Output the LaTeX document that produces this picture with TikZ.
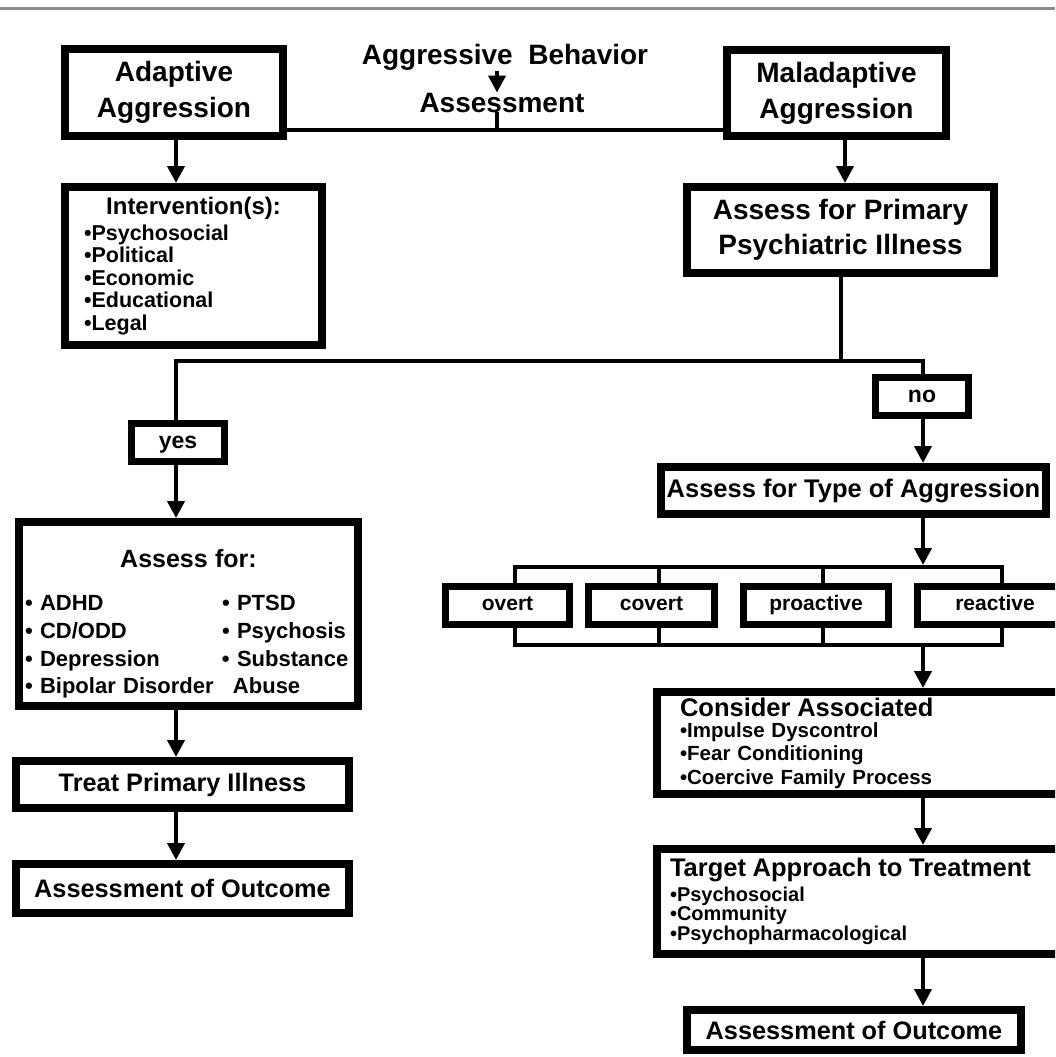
\documentclass[tikz,border=0pt]{standalone}
\usepackage{fontspec}
\setmainfont{Liberation Sans}
\usetikzlibrary{arrows.meta,positioning}

\begin{document}
\lineskiplimit=-20pt\relax
\begin{tikzpicture}[
    x=1pt, y=-1pt,
    box/.style={draw, line width=8pt, inner sep=0pt, align=center},
    tag/.style={draw, line width=7pt, inner sep=0pt, minimum height=38pt, text height=15pt, text depth=4.5pt, font=\bfseries\fontsize{21}{24}\selectfont},
    conn/.style={line width=4pt},
    arr/.style={conn, -{Triangle[length=17pt,width=17pt]}},
  ]
    \useasboundingbox (0,0) rectangle (1055,1057);
    \clip (0,0) rectangle (1055,1057);
    \draw[line width=3pt, black!45] (0,9) -- (1055,9);

    % Top row
    \node[box, minimum width=218pt, minimum height=87pt, font=\bfseries\fontsize{28}{36}\selectfont] (adapt) at (174,92.5) {Adaptive\\Aggression};
    \node[box, minimum width=219pt, minimum height=86pt, font=\bfseries\fontsize{28}{36}\selectfont] (malad) at (836.5,93) {Maladaptive\\Aggression};
    \node[inner sep=0pt, anchor=base, font=\bfseries\fontsize{28}{34}\selectfont] (behav) at (505,65) {Aggressive~~Behavior};
    \node[inner sep=0pt, anchor=base, font=\bfseries\fontsize{28}{34}\selectfont] (assess) at (502,112) {Assessment};

    % Adaptive branch
    \node[box, minimum width=257pt, minimum height=158pt, text width=219pt, inner xsep=19pt, align=left,
          font=\bfseries\fontsize{21.5}{22.5}\selectfont] (interv) at (193.5,266)
      {\makebox[\linewidth]{\fontsize{24}{24}\selectfont Intervention(s):}\\[3.5pt]
       •Psychosocial\\ •Political\\ •Economic\\ •Educational\\ •Legal};

    % Maladaptive branch
    \node[box, minimum width=307pt, minimum height=86pt, font=\bfseries\fontsize{28}{35}\selectfont] (primary) at (840.5,230) {Assess for Primary\\Psychiatric Illness};
    \node[tag, minimum width=93pt, text height=16.5pt, text depth=5pt, font=\bfseries\fontsize{23}{26}\selectfont] (yes) at (178,442.5) {yes};
    \node[tag, minimum width=93pt, text height=16.5pt, text depth=5pt, font=\bfseries\fontsize{23}{26}\selectfont] (no) at (922,396.5) {no};

    % Primary illness
    \node[box, minimum width=339pt, minimum height=184pt, text width=327pt, inner xsep=6pt, align=left,
          font=\bfseries\fontsize{22}{27.7}\selectfont] (asfor) at (188.5,614)
      {\makebox[\linewidth]{\rule{0pt}{38pt}\fontsize{25}{25}\selectfont Assess for:}\\[15.3pt]
       \makebox[197pt][l]{• ADHD}• PTSD\\
       \makebox[197pt][l]{• CD/ODD}• Psychosis\\
       \makebox[197pt][l]{• Depression}• Substance\\
       \makebox[197pt][l]{• Bipolar Disorder}\hspace{11pt}Abuse};
    \node[box, minimum width=333pt, minimum height=47pt, font=\bfseries\fontsize{25.3}{30}\selectfont, below=47pt of asfor, xshift=-6pt] (treat) {Treat Primary Illness};
    \node[box, minimum width=333pt, minimum height=49pt, font=\bfseries\fontsize{25.3}{30}\selectfont, below=48pt of treat] (outL) {Assessment of Outcome};

    % Type of aggression
    \node[box, minimum width=385pt, minimum height=47pt, font=\bfseries\fontsize{25.5}{30}\selectfont] (type) at (853.5,490.5) {Assess for Type of Aggression};
    \node[tag, minimum width=124pt] (overt) at (507.5,605.5) {overt};
    \node[tag, minimum width=126pt] (covert) at (651.5,605.5) {covert};
    \node[tag, minimum width=145pt] (proactive) at (816,605.5) {proactive};
    \node[tag, minimum width=156pt] (reactive) at (995,605.5) {reactive};

    \node[box, minimum width=424pt, minimum height=102pt, text width=378pt, inner xsep=23pt, align=left,
          font=\bfseries\fontsize{20.5}{23.5}\selectfont] (consider) at (869,743)
      {{\fontsize{25.5}{25.5}\selectfont Consider Associated}\\[-2.5pt]
       •Impulse Dyscontrol\\ •Fear Conditioning\\ •Coercive Family Process};
    \node[box, minimum width=424pt, minimum height=105pt, text width=398pt, inner xsep=13pt, align=left,
          font=\bfseries\fontsize{20}{18.5}\selectfont, below=47pt of consider] (target)
      {{\fontsize{25.5}{25.5}\selectfont Target Approach to Treatment}\\[3.5pt]
       •Psychosocial\\ •Community\\ •Psychopharmacological};
    \node[box, minimum width=334pt, minimum height=40pt, font=\bfseries\fontsize{25.3}{30}\selectfont, below=48pt of target, xshift=-15pt] (outR) {Assessment of Outcome};

    % Columns and bars
    \coordinate (mid) at (497,130);
    \coordinate (lcol) at (176,361);
    \coordinate (rcol) at (923,361);
    \coordinate (split) at (840.5,361);
    \coordinate (tbar) at (0,567);
    \coordinate (bbar) at (0,645);

    % Edges
    \draw[conn] (adapt.east |- mid) -- (malad.west |- mid);
    \draw[arr] (behav.south -| mid) -- (assess.north -| mid);
    \draw[conn] (assess.south -| mid) -- (mid);
    \draw[arr] (lcol |- adapt.south) -- (lcol |- interv.north);
    \draw[arr] ([xshift=8.5pt]malad.south) -- ([xshift=8.5pt]malad.south |- primary.north);
    \draw[conn] (primary.south) -- (split);
    \draw[conn] (lcol |- yes.north) -- (lcol) -- (rcol) -- (rcol |- no.north);
    \draw[arr] (lcol |- yes.south) -- (lcol |- asfor.north);
    \draw[arr] (rcol |- no.south) -- (rcol |- type.north);
    \draw[arr, shorten >=2pt] (rcol |- type.south) -- (rcol |- tbar);
    \foreach \t in {overt,covert,proactive,reactive} {
      \coordinate (\t-up) at ([xshift=7pt]\t.north);
      \coordinate (\t-dn) at ([xshift=7pt]\t.south);
    }
    \draw[conn] (overt-up) -- (overt-up |- tbar) -- (reactive-up |- tbar) -- (reactive-up);
    \draw[conn] (overt-dn) -- (overt-dn |- bbar) -- (reactive-dn |- bbar) -- (reactive-dn);
    \foreach \t in {covert,proactive} {
      \draw[conn] (\t-up) -- (\t-up |- tbar);
      \draw[conn] (\t-dn) -- (\t-dn |- bbar);
    }
    \draw[arr] (rcol |- bbar) -- (rcol |- consider.north);
    \draw[arr] (rcol |- consider.south) -- (rcol |- target.north);
    \draw[arr] (rcol |- target.south) -- (rcol |- outR.north);
    \draw[arr] (lcol |- asfor.south) -- (lcol |- treat.north);
    \draw[arr] (lcol |- treat.south) -- (lcol |- outL.north);
  \end{tikzpicture}
\end{document}
